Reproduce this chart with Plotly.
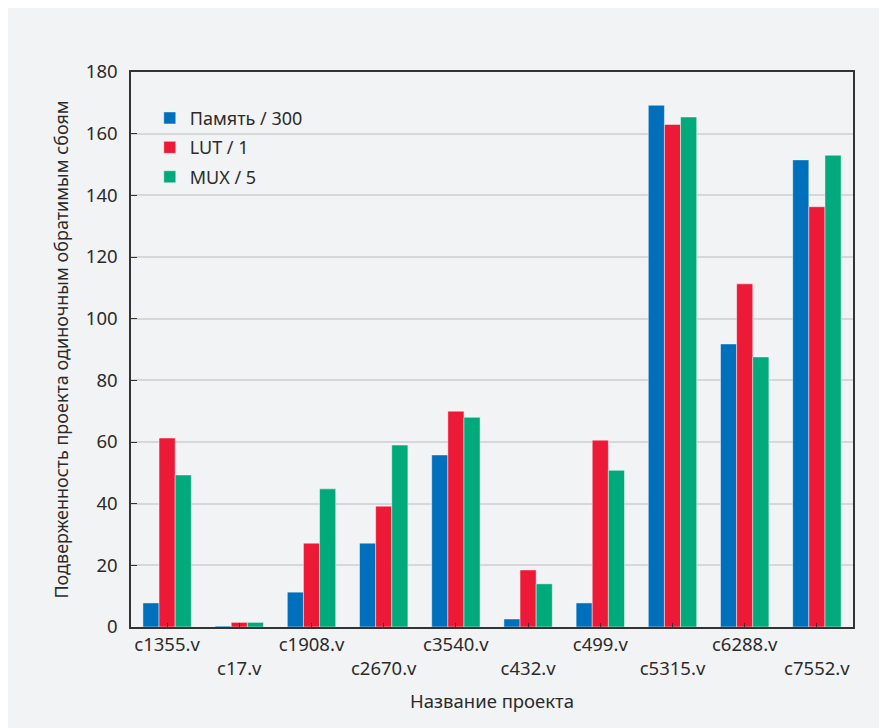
import plotly.graph_objects as go

categories = ["c1355.v", "c17.v", "c1908.v", "c2670.v", "c3540.v",
              "c432.v", "c499.v", "c5315.v", "c6288.v", "c7552.v"]
tick_labels = ["c1355.v", "<br>c17.v", "c1908.v", "<br>c2670.v", "c3540.v",
               "<br>c432.v", "c499.v", "<br>c5315.v", "c6288.v", "<br>c7552.v"]
memory_300 = [7.8, 0.3, 11.3, 27.2, 55.8, 2.6, 7.8, 169.2, 91.8, 151.5]
lut_1 = [61.3, 1.5, 27.2, 39.2, 70.0, 18.5, 60.6, 163.0, 111.3, 136.3]
mux_5 = [49.3, 1.5, 44.8, 59.0, 68.0, 14.0, 50.8, 165.4, 87.6, 153.0]

series = [("Память / 300", memory_300, "#0070bd"),
          ("LUT / 1", lut_1, "#ec1a37"),
          ("MUX / 5", mux_5, "#00aa7b")]

font_family = "Noto Sans, Open Sans, sans-serif"
fig = go.Figure()
for name, vals, col in series:
    fig.add_trace(go.Bar(
        x=categories, y=vals, name=name, legendgroup=name,
        marker=dict(color=col, line=dict(color="rgba(255,255,255,0.45)", width=1)),
    ))

fig.update_layout(
    width=879, height=720,
    barmode="group", bargap=0.33, bargroupgap=0,
    paper_bgcolor="#f2f3f5", plot_bgcolor="#f2f3f5",
    margin=dict(l=123, r=34, t=64, b=101),
    font=dict(family=font_family, size=18, color="#2b2b2b"),
    showlegend=True,
    legend=dict(x=0.026, y=0.95, xanchor="left", yanchor="top",
                bgcolor="rgba(0,0,0,0)", font=dict(size=18),
                itemwidth=30, tracegroupgap=3, traceorder="grouped"),
)
fig.update_xaxes(
    tickmode="array", tickvals=categories, ticktext=tick_labels,
    showline=True, linecolor="#333333", linewidth=2, mirror=True,
    ticks="inside", ticklen=4, tickcolor="#333333",
    tickfont=dict(size=18.5),
    title=dict(text="Название проекта", font=dict(size=18.5), standoff=16),
)
fig.update_yaxes(
    range=[0, 180], dtick=20,
    showline=True, linecolor="#333333", linewidth=1.5, mirror=True,
    ticks="inside", ticklen=6, tickcolor="#333333",
    showgrid=True, gridcolor="#d6d7d9", gridwidth=1.5,
    zeroline=False, tickfont=dict(size=18.5), ticklabelstandoff=8,
    title=dict(text="Подверженность проекта одиночным обратимым сбоям",
               font=dict(size=18), standoff=12),
)
fig.write_html("out.html")
